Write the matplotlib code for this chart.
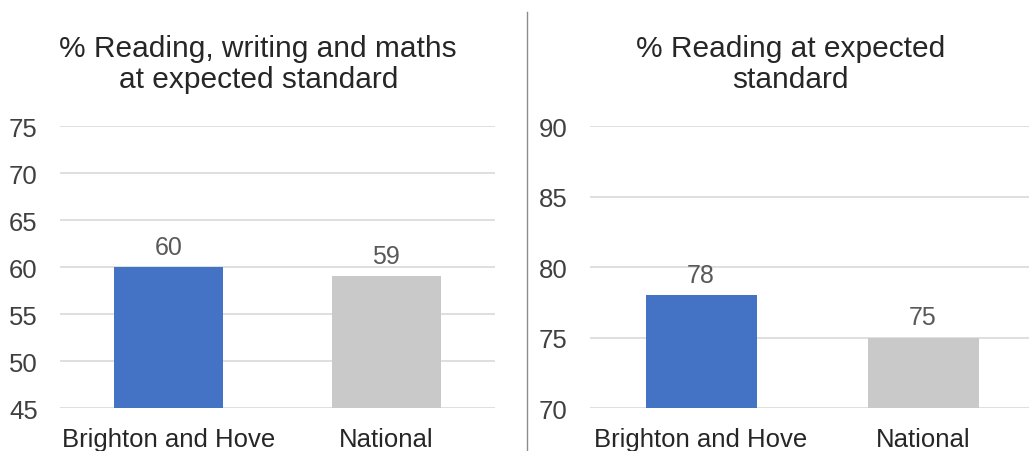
import matplotlib
matplotlib.use("Agg")
import matplotlib.pyplot as plt
from matplotlib.lines import Line2D

plt.rcParams["font.family"] = ["Liberation Sans", "DejaVu Sans"]

categories = ["Brighton and Hove", "National"]
rwm_values = [60, 59]
reading_values = [78, 75]
rwm_ticks = [45, 50, 55, 60, 65, 70, 75]
reading_ticks = [70, 75, 80, 85, 90]
bar_colors = ["#4472C4", "#C9C9C9"]

TICK_COLOR = "#404040"
LABEL_COLOR = "#595959"
GRID_COLOR = "#D9D9D9"


def draw_panel(ax, values, ticks):
    x = range(len(categories))
    ax.bar(x, values, width=0.5, color=bar_colors, zorder=3)
    for xi, v in zip(x, values):
        ax.annotate(str(v), (xi, v), textcoords="offset points", xytext=(0, 6),
                    ha="center", va="bottom", fontsize=18, color=LABEL_COLOR)
    ax.set_xlim(-0.5, len(categories) - 0.5)
    ax.set_ylim(ticks[0], ticks[-1])
    ax.set_yticks(ticks)
    ax.set_xticks(list(x))
    ax.set_xticklabels(categories)
    ax.tick_params(axis="y", length=0, pad=16, labelsize=18.5, labelcolor=TICK_COLOR)
    ax.tick_params(axis="x", length=0, pad=14, labelsize=18.5, labelcolor="#262626")
    ax.grid(axis="y", color=GRID_COLOR, linewidth=1.2, zorder=0)
    for side in ax.spines.values():
        side.set_visible(False)
    ax.set_axisbelow(True)


fig = plt.figure(figsize=(10.29, 4.52), dpi=100)
ax1 = fig.add_axes([0.0583, 0.0951, 0.4227, 0.6239])
ax2 = fig.add_axes([0.5734, 0.0951, 0.4315, 0.6239])

draw_panel(ax1, rwm_values, rwm_ticks)
draw_panel(ax2, reading_values, reading_ticks)

fig.text(0.251, 0.858, "% Reading, writing and maths\nat expected standard",
         ha="center", va="center", fontsize=21.5, color="#262626", linespacing=1.12)
fig.text(0.768, 0.858, "% Reading at expected\nstandard",
         ha="center", va="center", fontsize=21.5, color="#262626", linespacing=1.12)

# divider between the two panels
fig.add_artist(Line2D([0.512, 0.512], [0.0, 0.972], transform=fig.transFigure,
                      color="#8C8C8C", linewidth=1))

fig.savefig("out.png", dpi=100)
